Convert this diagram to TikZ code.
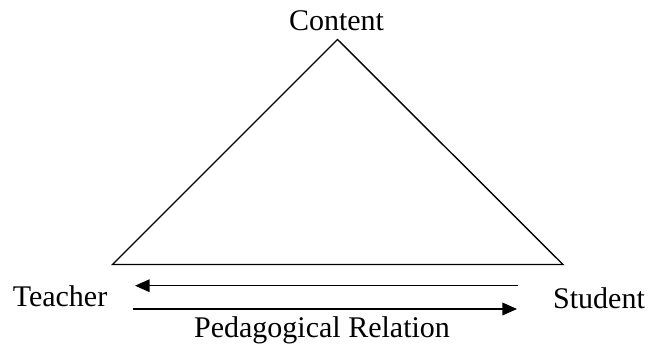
\documentclass[tikz,border=0pt]{standalone}
\usepackage{fontspec}
\setmainfont{Liberation Serif}
\usetikzlibrary{arrows.meta}
\begin{document}
\begin{tikzpicture}[x=0.75pt,y=-0.75pt,
  lbl/.style={anchor=base,inner sep=0pt,font=\fontsize{22.5}{27}\selectfont},
  edge/.style={line width=1.05pt,line join=miter},
  rel/.style={line width=1.05pt,-{Triangle[length=11pt,width=9.5pt]}}]
\useasboundingbox (0,0) rectangle (648,350);
\node[lbl] (content) at (336.5,30) {Content};
\node[lbl] (teacher) at (60,306.5) {Teacher};
\node[lbl] (student) at (599,308) {Student};
\node[lbl] (ped) at (322,337.5) {Pedagogical Relation};
\coordinate (apex) at (337.5,39.5);
\coordinate (bl) at (112.5,264.5);
\coordinate (br) at (563,264.5);
\draw[edge] (bl) -- (apex) -- (br) -- cycle;
\coordinate (t1) at (518,285.7);
\coordinate (t2) at (135,285.7);
\coordinate (b1) at (133,309);
\coordinate (b2) at (517,309);
\draw[rel] (t1) -- (t2);
\draw[rel] (b1) -- (b2);
\end{tikzpicture}
\end{document}
